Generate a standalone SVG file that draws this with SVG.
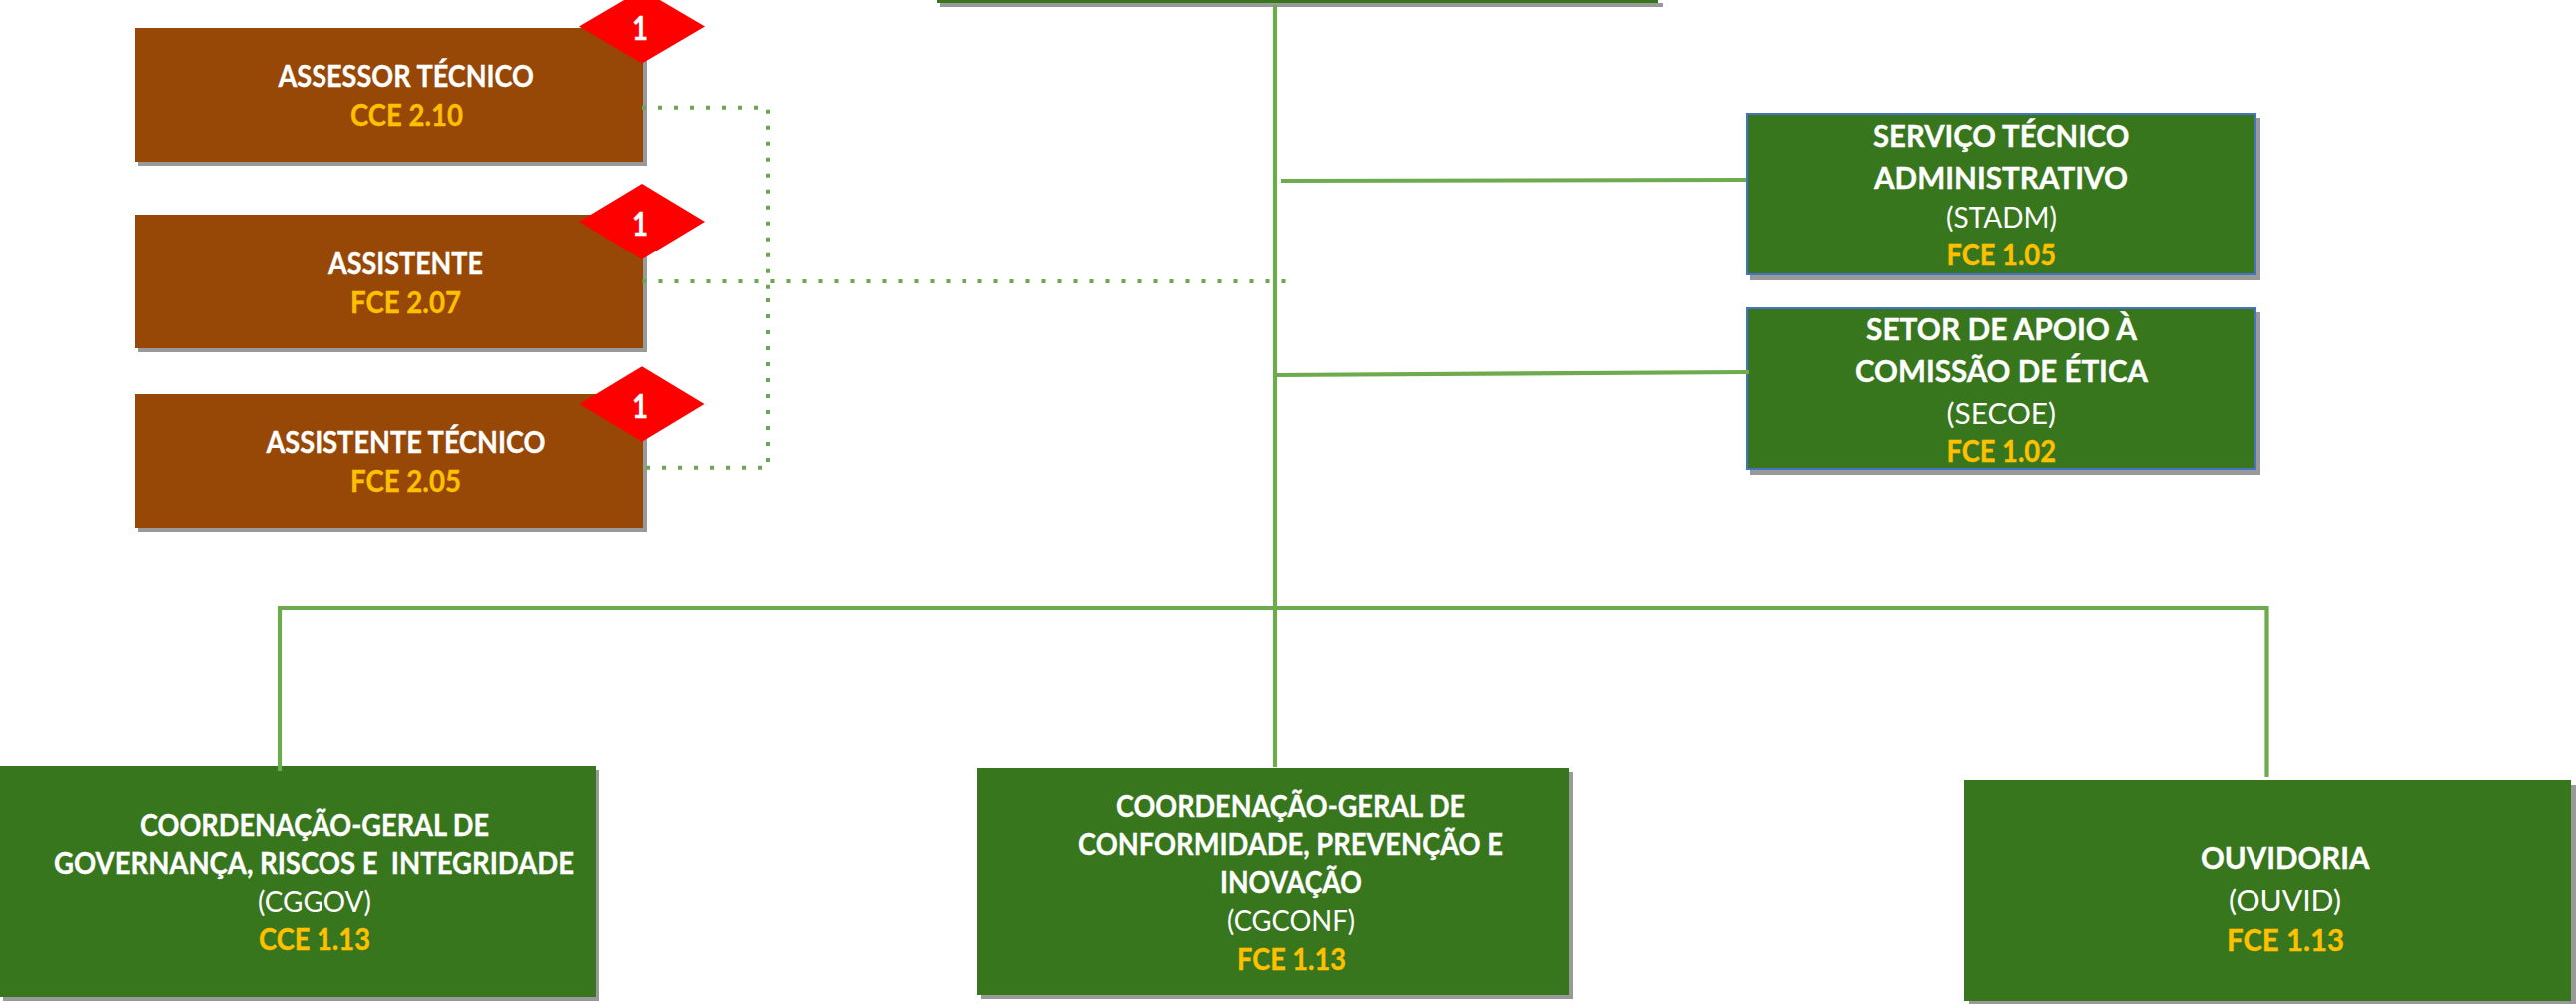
<svg xmlns="http://www.w3.org/2000/svg" width="2580" height="1006" viewBox="0 0 2580 1006">
<style>
text{font-family:Lato,"Liberation Sans",sans-serif;font-size:29.5px;font-weight:700;fill:#fff;stroke:#fff;stroke-width:.35}
text.r{font-weight:400;stroke:none}
text.g{fill:#ffc000;stroke:#ffc000}
text.n{font-size:33px}
.s{fill:#999}
.gb{fill:#38761d}
.bb{stroke:#4472c4;stroke-width:2}
.br{fill:#974706}
.d{fill:#f00}
.l{fill:none;stroke:#6dab4e;stroke-width:4.2}
.dot{fill:none;stroke:#6aa84f;stroke-width:4;stroke-dasharray:4 12}
</style>
<g id="top-box"><rect class="s" x="941" y="3" width="725" height="4"/><rect class="gb" x="938" y="-20" width="723" height="23"/></g>
<g id="assessor-tecnico"><rect class="s" x="138" y="32" width="510" height="134"/><rect class="br" x="135" y="28" width="509" height="134"/><polygon class="d" points="580,26.5 643,-10.5 706,26.5 643,63.5"/><text class="n" x="633" y="40" textLength="16" lengthAdjust="spacingAndGlyphs">1</text><text x="278.5" y="87" textLength="256.5" lengthAdjust="spacingAndGlyphs">ASSESSOR TÉCNICO</text><text class="g" x="351" y="125.5" textLength="113" lengthAdjust="spacingAndGlyphs">CCE 2.10</text></g>
<g id="assistente"><rect class="s" x="138" y="219" width="510" height="134"/><rect class="br" x="135" y="215" width="509" height="134"/><polygon class="d" points="580,222 643,184 706,222 643,260"/><text class="n" x="633" y="235.5" textLength="16" lengthAdjust="spacingAndGlyphs">1</text><text x="329" y="274.5" textLength="155" lengthAdjust="spacingAndGlyphs">ASSISTENTE</text><text class="g" x="351" y="313.5" textLength="111" lengthAdjust="spacingAndGlyphs">FCE 2.07</text></g>
<g id="assistente-tecnico"><rect class="s" x="138" y="399" width="510" height="134"/><rect class="br" x="135" y="395" width="509" height="134"/><polygon class="d" points="580.5,405 643,367.3 705.5,405 643,442.7"/><text class="n" x="633" y="419" textLength="16" lengthAdjust="spacingAndGlyphs">1</text><text x="266.5" y="454" textLength="280" lengthAdjust="spacingAndGlyphs">ASSISTENTE TÉCNICO</text><text class="g" x="351" y="493" textLength="111" lengthAdjust="spacingAndGlyphs">FCE 2.05</text></g>
<g id="stadm"><rect class="s" x="1753" y="118" width="511" height="163"/><rect class="gb bb" x="1750" y="114" width="509" height="161"/><text x="1876" y="147" textLength="256.5" lengthAdjust="spacingAndGlyphs">SERVIÇO TÉCNICO</text><text x="1877" y="189" textLength="254" lengthAdjust="spacingAndGlyphs">ADMINISTRATIVO</text><text class="r" x="1949" y="228" textLength="111" lengthAdjust="spacingAndGlyphs">(STADM)</text><text class="g" x="1949.5" y="266" textLength="109.5" lengthAdjust="spacingAndGlyphs">FCE 1.05</text></g>
<g id="secoe"><rect class="s" x="1753" y="313" width="511" height="163"/><rect class="gb bb" x="1750" y="309" width="509" height="161"/><text x="1869" y="341" textLength="271" lengthAdjust="spacingAndGlyphs">SETOR DE APOIO À</text><text x="1858" y="383" textLength="293" lengthAdjust="spacingAndGlyphs">COMISSÃO DE ÉTICA</text><text class="r" x="1949.5" y="425" textLength="109.5" lengthAdjust="spacingAndGlyphs">(SECOE)</text><text class="g" x="1949.5" y="463" textLength="109.5" lengthAdjust="spacingAndGlyphs">FCE 1.02</text></g>
<g id="cggov"><rect class="s" x="3" y="772" width="597" height="231"/><rect class="gb" x="0" y="768" width="597" height="231"/><text x="140" y="838" textLength="350" lengthAdjust="spacingAndGlyphs">COORDENAÇÃO-GERAL DE</text><text x="54" y="875.5" textLength="521" lengthAdjust="spacingAndGlyphs" xml:space="preserve">GOVERNANÇA, RISCOS E  INTEGRIDADE</text><text class="r" x="258" y="914" textLength="114" lengthAdjust="spacingAndGlyphs">(CGGOV)</text><text class="g" x="259" y="952" textLength="112" lengthAdjust="spacingAndGlyphs">CCE 1.13</text></g>
<g id="cgconf"><rect class="s" x="983" y="774" width="592" height="227"/><rect class="gb" x="979" y="770" width="592" height="227"/><text x="1118" y="819" textLength="349" lengthAdjust="spacingAndGlyphs">COORDENAÇÃO-GERAL DE</text><text x="1080" y="857" textLength="425" lengthAdjust="spacingAndGlyphs">CONFORMIDADE, PREVENÇÃO E</text><text x="1222" y="895" textLength="142" lengthAdjust="spacingAndGlyphs">INOVAÇÃO</text><text class="r" x="1229" y="933" textLength="128" lengthAdjust="spacingAndGlyphs">(CGCONF)</text><text class="g" x="1239" y="972" textLength="109" lengthAdjust="spacingAndGlyphs">FCE 1.13</text></g>
<g id="ouvid"><rect class="s" x="1972" y="787" width="608" height="219"/><rect class="gb" x="1967" y="782" width="608" height="221"/><text x="2204" y="871" textLength="169.5" lengthAdjust="spacingAndGlyphs">OUVIDORIA</text><text class="r" x="2232" y="913" textLength="113" lengthAdjust="spacingAndGlyphs">(OUVID)</text><text class="g" x="2230" y="953" textLength="118" lengthAdjust="spacingAndGlyphs">FCE 1.13</text></g>
<g id="connectors">
<path class="l" d="M1277 5V769"/>
<path class="l" d="M1283 181L1749 180"/>
<path class="l" d="M1277 376L1752 373"/>
<path class="l" d="M280 773V609H2270.5V779"/>
<path class="dot" d="M643 107.7H769V292"/>
<path class="dot" d="M769 463V296"/>
<path class="dot" d="M763 468.7H647"/>
<path class="dot" d="M643.5 282H1288"/>
</g>
</svg>
